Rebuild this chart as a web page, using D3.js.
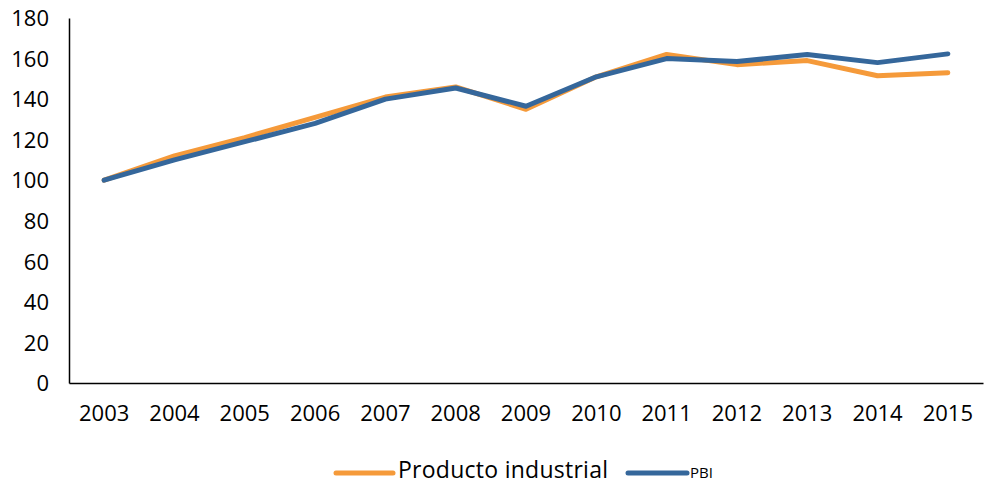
<!DOCTYPE html>
<html>
<head>
<meta charset="utf-8">
<script src="https://cdn.jsdelivr.net/npm/d3@7"></script>
<style>
  html, body { margin: 0; padding: 0; background: #fff; }
  svg { display: block; }
  text { font-family: "Open Sans", "DejaVu Sans", sans-serif; fill: #000; }
</style>
</head>
<body>
<svg id="chart" width="986" height="484"></svg>
<script>
const years = ["2003","2004","2005","2006","2007","2008","2009","2010","2011","2012","2013","2014","2015"];
const productoIndustrial = [100, 112, 121, 131, 141, 146, 135, 151, 162, 157, 159, 151.5, 153];
const pbi = [100, 110, 119, 128, 140, 145.5, 136.5, 151, 160, 158.5, 162, 158, 162.3];
const yTicks = [0, 20, 40, 60, 80, 100, 120, 140, 160, 180];
const seriesNames = ["Producto industrial", "PBI"];
const seriesColors = ["#f59a3a", "#35679b"];

(function () {
const svg = d3.select("#chart");
const mLeft = 69, mRight = 983, mTop = 18, mBottom = 383;

const x = d3.scaleBand().domain(years).range([mLeft, mRight]).padding(0);
const y = d3.scaleLinear().domain([0, 180]).range([mBottom, mTop]);

// Y axis
const yAxis = svg.append("g").attr("transform", `translate(${mLeft},0)`)
  .call(d3.axisLeft(y).tickValues(yTicks).tickSize(0).tickPadding(20));
yAxis.select(".domain").attr("stroke", "#000").attr("stroke-width", 1.5);
yAxis.selectAll("text").attr("font-size", 22).attr("font-family", "Open Sans").attr("dy", "0.35em");

// X axis
const xAxis = svg.append("g").attr("transform", `translate(0,${mBottom})`)
  .call(d3.axisBottom(x).tickSize(0).tickPadding(22));
xAxis.select(".domain").attr("stroke", "#000").attr("stroke-width", 1.5);
xAxis.selectAll("text").attr("font-size", 22).attr("font-family", "Open Sans");

const line = d3.line()
  .x((d, i) => x(years[i]) + x.bandwidth() / 2)
  .y(d => y(d));

[productoIndustrial, pbi].forEach((s, k) => {
  svg.append("path")
    .datum(s)
    .attr("d", line)
    .attr("fill", "none")
    .attr("stroke", seriesColors[k])
    .attr("stroke-width", 5)
    .attr("stroke-linejoin", "round")
    .attr("stroke-linecap", "round");
});

// Legend
const leg = svg.append("g");
const legItems = [
  { x1: 336, x2: 393, tx: 398, size: 23 },
  { x1: 628, x2: 687, tx: 690, size: 15 }
];
legItems.forEach((it, k) => {
  leg.append("line")
    .attr("x1", it.x1).attr("x2", it.x2)
    .attr("y1", 473).attr("y2", 473)
    .attr("stroke", seriesColors[k]).attr("stroke-width", 5)
    .attr("stroke-linecap", "round");
  leg.append("text")
    .attr("x", it.tx).attr("y", 478)
    .attr("font-size", it.size)
    .attr("textLength", k === 0 ? 210 : null)
    .text(seriesNames[k]);
});
})();
</script>
</body>
</html>
